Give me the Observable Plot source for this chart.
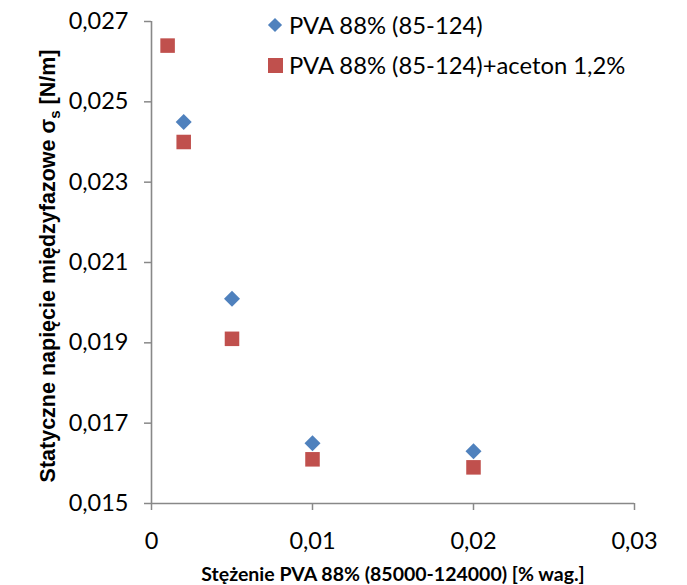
<!DOCTYPE html>
<html>
<head>
<meta charset="utf-8">
<script src="https://cdn.jsdelivr.net/npm/d3@7"></script>
<script src="https://cdn.jsdelivr.net/npm/@observablehq/plot@0.6"></script>
<style>
  html, body { margin: 0; padding: 0; background: #fff; }
  #wrap { position: relative; width: 687px; height: 585px; }
  .legend { position: absolute; left: 265px; top: 5px; font-family: Lato, sans-serif; font-size: 23.8px; color: #000; }
  .row { display: flex; align-items: center; height: 40px; }
  .sym { width: 20px; display: flex; justify-content: center; align-items: center; margin-right: 4px; }
  .dia { width: 10px; height: 10px; background: #4F81BD; transform: rotate(45deg); }
  .sq { width: 15px; height: 15px; background: #C0504D; }
</style>
</head>
<body>
<div id="wrap"></div>
<script>
const seriesNames = ["PVA 88% (85-124)", "PVA 88% (85-124)+aceton 1,2%"];
const xBlue = [0.002, 0.005, 0.01, 0.02];
const yBlue = [0.0245, 0.0201, 0.0165, 0.0163];
const xRed = [0.001, 0.002, 0.005, 0.01, 0.02];
const yRed = [0.0264, 0.0240, 0.0191, 0.0161, 0.0159];
const xTicks = [0, 0.01, 0.02, 0.03];
const yTicks = [0.015, 0.017, 0.019, 0.021, 0.023, 0.025, 0.027];
const xTitle = "Stężenie PVA 88% (85000-124000) [% wag.]";
const yTitleMain = "Statyczne napięcie międzyfazowe σ";
const yTitleSub = "s";
const yTitleEnd = " [N/m]";

const blue = xBlue.map((x, i) => ({x, y: yBlue[i]}));
const red = xRed.map((x, i) => ({x, y: yRed[i]}));
const fmt = dec => d => d === 0 ? "0" : d.toFixed(dec).replace(".", ",");
const axisColor = "#888888";

const chart = Plot.plot({
  width: 687,
  height: 585,
  marginLeft: 151,
  marginRight: 53,
  marginTop: 21,
  marginBottom: 82,
  style: { fontFamily: "Lato, sans-serif", background: "#fff", overflow: "visible" },
  x: { domain: [0, 0.03], ticks: xTicks, tickFormat: fmt(2), label: null },
  y: { domain: [0.015, 0.027], ticks: yTicks, tickFormat: fmt(3), label: null },
  marks: [
    Plot.axisY({ ticks: yTicks, tickFormat: fmt(3), tickSize: 7, tickPadding: 16, fontSize: 23.5, stroke: axisColor, strokeWidth: 1.5, color: "#000", label: null }),
    Plot.axisX({ ticks: xTicks, tickFormat: fmt(2), tickSize: 7, tickPadding: 22, fontSize: 23.5, stroke: axisColor, strokeWidth: 1.5, color: "#000", label: null }),
    Plot.ruleX([0], { stroke: axisColor, strokeWidth: 1.6 }),
    Plot.ruleY([0.015], { stroke: axisColor, strokeWidth: 1.6 }),
    Plot.dot(blue, { x: "x", y: "y", symbol: "diamond2", r: 7.2, fill: "#4F81BD", stroke: null }),
    Plot.dot(red, { x: "x", y: "y", symbol: "square", r: 8.2, fill: "#C0504D", stroke: null })
  ]
});

const svg = d3.select(chart);
svg.append("text")
  .attr("x", 393).attr("y", 581)
  .attr("text-anchor", "middle")
  .attr("font-family", "Lato, sans-serif")
  .attr("font-weight", "bold")
  .attr("font-size", 19.5)
  .attr("fill", "#000")
  .text(xTitle);

const yt = svg.append("text")
  .attr("transform", "translate(55,266) rotate(-90)")
  .attr("text-anchor", "middle")
  .attr("font-family", "'Liberation Sans', Arial, sans-serif")
  .attr("font-weight", "bold")
  .attr("font-size", 21.5)
  .attr("fill", "#000");
yt.append("tspan").text(yTitleMain);
yt.append("tspan").attr("font-size", 15).attr("dy", 5).text(yTitleSub);
yt.append("tspan").attr("dy", -5).text(yTitleEnd);

const wrap = document.getElementById("wrap");
wrap.appendChild(chart);

const legend = document.createElement("div");
legend.className = "legend";
const syms = ["dia", "sq"];
seriesNames.forEach((name, i) => {
  const row = document.createElement("div");
  row.className = "row";
  const s = document.createElement("div");
  s.className = "sym";
  const inner = document.createElement("div");
  inner.className = syms[i];
  s.appendChild(inner);
  const t = document.createElement("span");
  t.textContent = name;
  row.appendChild(s);
  row.appendChild(t);
  legend.appendChild(row);
});
wrap.appendChild(legend);
</script>
</body>
</html>
